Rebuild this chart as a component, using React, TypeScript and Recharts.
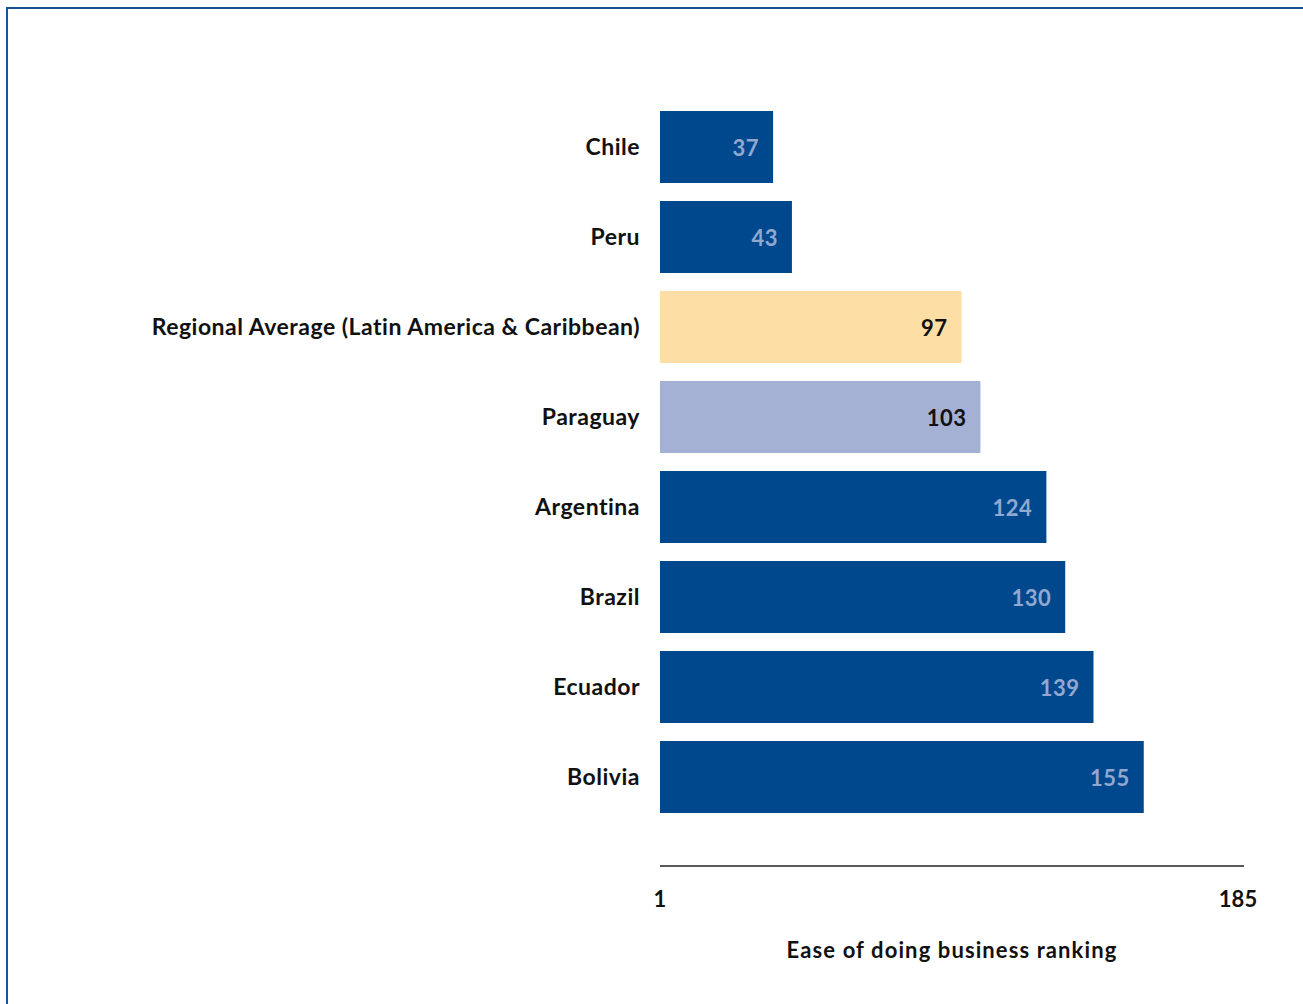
import { BarChart, Bar, XAxis, YAxis, Cell, LabelList } from "recharts"

const countries = [
  "Chile",
  "Peru",
  "Regional Average (Latin America & Caribbean)",
  "Paraguay",
  "Argentina",
  "Brazil",
  "Ecuador",
  "Bolivia",
]
const rankings = [37, 43, 97, 103, 124, 130, 139, 155]
const axisTicks = [1, 185]

const data = countries.map((name, i) => ({ name, rank: rankings[i] }))

const FONT = "Lato, 'Open Sans', sans-serif"
const DARK = "#00488d"

const barColor = (name: string) => {
  if (name.startsWith("Regional")) return "#fddfa6"
  if (name === "Paraguay") return "#a4b0d4"
  return DARK
}

const labelColor = (name: string) => (barColor(name) === DARK ? "#91a8d0" : "#111111")

const ValueLabel = (props: any) => {
  const { x, y, width, height, value, index } = props
  return (
    <text
      x={x + width - 14}
      y={y + height / 2}
      textAnchor="end"
      dominantBaseline="central"
      fontFamily={FONT}
      fontWeight={700}
      fontSize={22}
      letterSpacing={0.5}
      fill={labelColor(countries[index])}
    >
      {value}
    </text>
  )
}

export default function App() {
  return (
    <div
      style={{
        position: "absolute",
        left: 6,
        top: 7,
        width: 1295,
        height: 995,
        borderTop: "2px solid #1a5394",
        borderLeft: "2px solid #1a5394",
        background: "#fff",
      }}
    >
      <BarChart
        width={1295}
        height={995}
        layout="vertical"
        data={data}
        margin={{ top: 93, right: 59, bottom: 78, left: 0 }}
      >
        <XAxis
          type="number"
          dataKey="rank"
          domain={[1, 185]}
          ticks={axisTicks}
          padding={{ right: 6 }}
          tickLine={false}
          tickSize={0}
          tickMargin={25}
          height={60}
          axisLine={{ stroke: "#222", strokeWidth: 1.5 }}
          tick={{ fontFamily: FONT, fontWeight: 700, fontSize: 22, fill: "#111" }}
          label={{
            value: "Ease of doing business ranking",
            position: "bottom",
            offset: 16,
            fontFamily: FONT,
            fontWeight: 700,
            fontSize: 22,
            letterSpacing: 1.1,
            fill: "#111",
          }}
        />
        <YAxis
          type="category"
          dataKey="name"
          width={652}
          padding={{ bottom: 44 }}
          axisLine={false}
          tickLine={false}
          tickSize={0}
          tickMargin={20}
          interval={0}
          tick={{ fontFamily: FONT, fontWeight: 700, fontSize: 23, letterSpacing: 0.5, fill: "#111" }}
        />
        <Bar dataKey="rank" barSize={72} isAnimationActive={false}>
          {data.map((d) => (
            <Cell key={d.name} fill={barColor(d.name)} />
          ))}
          <LabelList dataKey="rank" content={ValueLabel} />
        </Bar>
      </BarChart>
    </div>
  )
}
